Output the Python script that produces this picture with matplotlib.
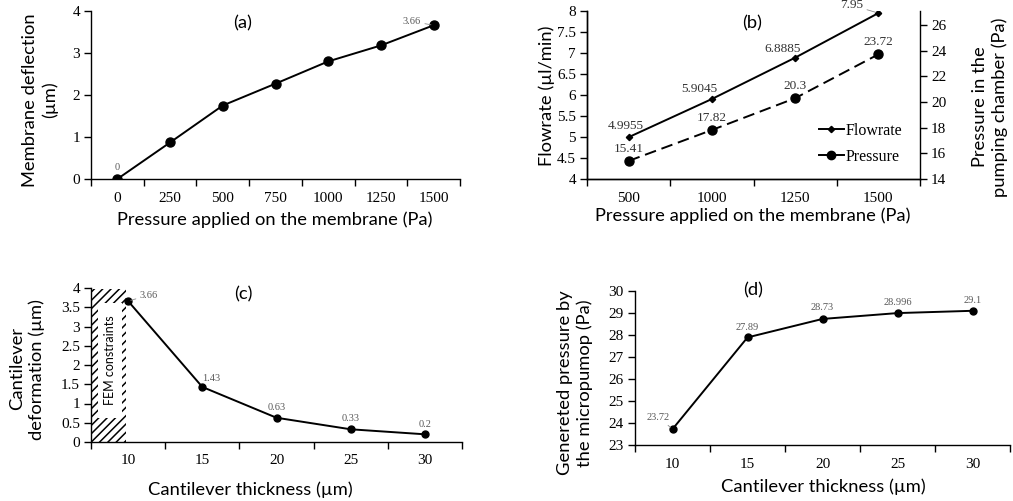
import numpy as np
import matplotlib
matplotlib.use("Agg")
import matplotlib.pyplot as plt
from matplotlib.patches import Rectangle
from matplotlib.lines import Line2D

W, H = 1013, 501

# ---- data ----
press_a = ["0", "250", "500", "750", "1000", "1250", "1500"]
deflection = [0, 0.87, 1.75, 2.27, 2.80, 3.18, 3.66]

press_b = ["500", "1000", "1250", "1500"]
flowrate = [4.9955, 5.9045, 6.8885, 7.95]
chamber_pressure = [15.41, 17.82, 20.3, 23.72]

thickness = ["10", "15", "20", "25", "30"]
cant_deform = [3.66, 1.43, 0.63, 0.33, 0.2]
gen_pressure = [23.72, 27.89, 28.73, 28.996, 29.1]

SANS = "Lato"
SERIF = "Liberation Serif"
LBL = 13.2
TCK = 11
GRAY = "#595959"

plt.rcParams["font.family"] = SERIF
plt.rcParams["axes.linewidth"] = 1.0
plt.rcParams["hatch.linewidth"] = 1.1

fig = plt.figure(figsize=(W / 100, H / 100), dpi=100)


def px_axes(l, t, r, b):
    return fig.add_axes([l / W, 1 - b / H, (r - l) / W, (b - t) / H])


def fpos(x, y):
    return (x / W, 1 - y / H)


def fmt(v):
    return ("%g" % v)


def category_axis(ax, labels):
    n = len(labels)
    ax.set_xlim(-0.5, n - 0.5)
    ax.set_xticks(np.arange(-0.5, n, 1.0))
    ax.set_xticklabels([])
    ax.set_xticks(np.arange(n), minor=True)
    ax.set_xticklabels(labels, minor=True, fontsize=TCK, family=SERIF)
    ax.tick_params(axis="x", which="major", direction="out", length=5, width=1)
    ax.tick_params(axis="x", which="minor", length=0, pad=9)
    ax.tick_params(axis="y", direction="out", length=5, width=1, labelsize=TCK, pad=3)
    ax.spines["top"].set_visible(False)
    ax.spines["right"].set_visible(False)


def set_yticks(ax, ticks):
    ax.set_yticks(ticks)
    ax.set_yticklabels([fmt(t) for t in ticks], family=SERIF, fontsize=TCK)


def place_labels(ax, xlabel, xpos, ylabel, ypos):
    ax.set_xlabel(xlabel, family=SANS, fontsize=LBL, va="center")
    ax.xaxis.set_label_coords(*fpos(*xpos), transform=fig.transFigure)
    ax.set_ylabel(ylabel, family=SANS, fontsize=LBL, va="center", linespacing=1.2)
    ax.yaxis.set_label_coords(*fpos(*ypos), transform=fig.transFigure)


def label_pt(ax, x, y, text, dx, dy, size=7.5, color=GRAY, leader=False):
    kw = {}
    if leader:
        kw["arrowprops"] = dict(arrowstyle="-", color="#8c8c8c", lw=0.6, shrinkA=1, shrinkB=2)
    ax.annotate(text, (x, y), xytext=(dx * 0.72, dy * 0.72), textcoords="offset points",
                ha="center", va="center", fontsize=size, color=color, family=SERIF, **kw)


# ---------------- (a) ----------------
ax = px_axes(91, 11, 460, 179)
xa = np.arange(len(press_a))
ax.plot(xa, deflection, color="black", lw=1.4, marker="o", ms=6.5)
category_axis(ax, press_a)
ax.set_ylim(0, 4)
set_yticks(ax, [0, 1, 2, 3, 4])
place_labels(ax, "Pressure applied on the membrane (Pa)", (275, 220),
             "Membrane deflection\n(\u00b5m)", (40, 100))
label_pt(ax, xa[0], deflection[0], "0", 0, 12)
label_pt(ax, xa[-1], deflection[-1], "3.66", -22, 4, leader=True)
fig.text(*fpos(243, 23), "(a)", family=SANS, fontsize=LBL, ha="center", va="center")

# ---------------- (b) ----------------
ax = px_axes(587, 11, 920, 179)
xb = np.arange(len(press_b))
ax.plot(xb, flowrate, color="black", lw=1.4, marker="D", ms=3.2, label="Flowrate")
category_axis(ax, press_b)
ax.set_ylim(4, 8)
set_yticks(ax, np.arange(4, 8.01, 0.5))
place_labels(ax, "Pressure applied on the membrane (Pa)", (753, 216),
             "Flowrate (\u00b5l/min)", (547, 96))
offs_f = [(-3, 11), (-13, 10), (-13, 9), (-27, 8)]
for i, v in enumerate(flowrate):
    label_pt(ax, xb[i], v, fmt(v), *offs_f[i], size=9.5, color="#333333", leader=(i == 3))

ax2 = ax.twinx()
ax2.plot(xb, chamber_pressure, color="black", lw=1.4, ls=(0, (6, 3)),
         marker="o", ms=6.5, label="Pressure")
ax2.set_ylim(14, 27.1)
set_yticks(ax2, np.arange(14, 26.01, 2))
ax2.tick_params(axis="y", direction="out", length=5, width=1, pad=3)
ax2.spines["top"].set_visible(False)
ax2.set_ylabel("Pressure in the\npumping chamber (Pa)", family=SANS, fontsize=LBL,
               va="center", rotation=90, linespacing=1.2)
ax2.yaxis.set_label_coords(*fpos(990, 107), transform=fig.transFigure)
for i, v in enumerate(chamber_pressure):
    label_pt(ax2, xb[i], v, fmt(v), 0, 12, size=9.5, color="#333333")

h1 = Line2D([], [], color="black", lw=1.4, marker="D", ms=3.2)
h2 = Line2D([], [], color="black", lw=1.4, marker="o", ms=6)
ax.legend([h1, h2], ["Flowrate", "Pressure"], frameon=False, loc="lower right",
          bbox_to_anchor=(0.99, 0.0), prop={"family": SERIF, "size": 11.5},
          handlelength=1.6, handletextpad=0.1, labelspacing=0.6)
fig.text(*fpos(752, 23), "(b)", family=SANS, fontsize=LBL, ha="center", va="center")

# ---------------- (c) ----------------
ax = px_axes(91, 288, 462, 442)
xc = np.arange(len(thickness))
ax.add_patch(Rectangle((-0.5, 0), 0.47, 3.97, facecolor="white", edgecolor="black",
                       hatch="////", lw=0, zorder=1))
ax.add_patch(Rectangle((-0.405, 0.62), 0.325, 3.0, facecolor="white", edgecolor="none",
                       zorder=1.5))
ax.text(-0.245, 2.12, "FEM constraints", rotation=90, family=SANS, fontsize=9,
        ha="center", va="center", zorder=2)
ax.plot(xc, cant_deform, color="black", lw=1.4, marker="o", ms=5, zorder=3)
category_axis(ax, thickness)
ax.set_ylim(0, 4)
set_yticks(ax, np.arange(0, 4.01, 0.5))
place_labels(ax, "Cantilever thickness (\u00b5m)", (250, 490),
             "Cantilever\ndeformation (\u00b5m)", (27, 369))
offs_c = [(21, 6), (9, 8), (0, 10), (0, 11), (0, 10)]
for i, v in enumerate(cant_deform):
    label_pt(ax, xc[i], v, fmt(v), *offs_c[i], leader=(i == 0))
fig.text(*fpos(243, 294), "(c)", family=SANS, fontsize=LBL, ha="center", va="center")

# ---------------- (d) ----------------
ax = px_axes(635, 291, 1010, 445)
xd = np.arange(len(thickness))
ax.plot(xd, gen_pressure, color="black", lw=1.4, marker="o", ms=5)
category_axis(ax, thickness)
ax.set_ylim(23, 30)
set_yticks(ax, np.arange(23, 30.01, 1))
place_labels(ax, "Cantilever thickness (\u00b5m)", (823, 487),
             "Genereted pressure by\nthe micropumop (Pa)", (575, 383))
offs_d = [(-14, 12), (0, 10), (0, 11), (0, 11), (0, 10)]
for i, v in enumerate(gen_pressure):
    label_pt(ax, xd[i], v, fmt(v), *offs_d[i], leader=(i == 0))
fig.text(*fpos(753, 290), "(d)", family=SANS, fontsize=LBL, ha="center", va="center")

fig.savefig("out.png", dpi=100)
